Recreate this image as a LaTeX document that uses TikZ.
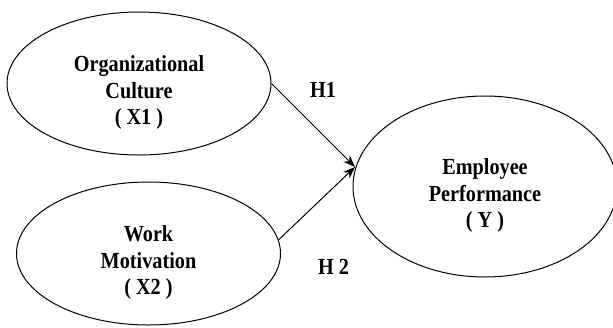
\documentclass[tikz,border=0pt]{standalone}
\usepackage{fontspec}
\newfontfamily\lblfont[FakeStretch=0.88]{Liberation Serif}
\usetikzlibrary{shapes.geometric,arrows.meta}

\begin{document}
\begin{tikzpicture}[x=1pt,y=-1pt,
        construct/.style={draw,ellipse,line width=1pt,inner sep=0pt,minimum width=264pt},
        cname/.style={align=center,font=\lblfont\bfseries\fontsize{23}{26.7}\selectfont},
        hyp/.style={font=\lblfont\bfseries\fontsize{23}{26.7}\selectfont},
        path/.style={draw,-{Stealth[length=12pt,width=9pt]},line width=1pt}]
        \useasboundingbox (0,0) rectangle (613,327);
        \node[construct,minimum height=143pt] (oc) at (139,83.5) {};
        \node[construct,minimum height=143pt] (wm) at (148.5,253.5) {};
        \node[construct,minimum height=181pt] (ep) at (485,186.5) {};
        \node[cname] (oct) at ([yshift=-9pt]oc.center) {Organizational\\Culture\\( X1 )};
        \node[cname] (wmt) at ([yshift=-9pt]wm.center) {Work\\Motivation\\( X2 )};
        \node[cname] (ept) at ([yshift=-9pt]ep.center) {Employee\\Performance\\( Y )};
        \coordinate (tip) at (355,167);
        \draw[path] (oc.east) -- (tip);
        \draw[path] (wm.6) -- (tip);
        \node[hyp] (h1) at (323,89.5) {H1};
        \node[hyp] (h2) at (333.5,266.5) {H 2};
    \end{tikzpicture}
\end{document}
